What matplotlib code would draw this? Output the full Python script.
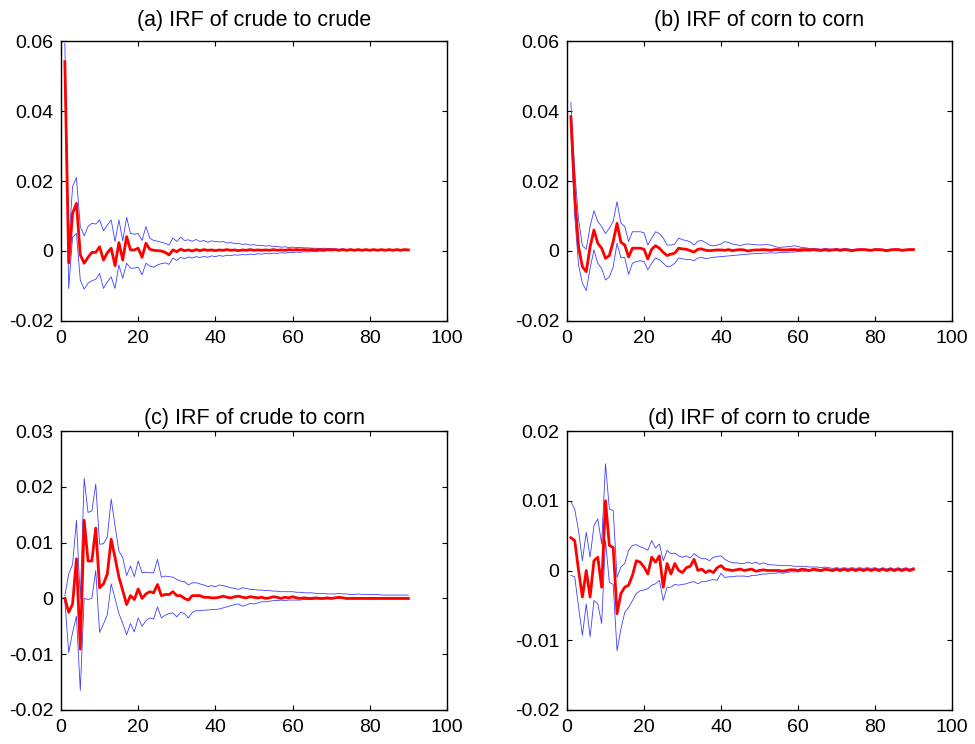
import matplotlib
matplotlib.use("Agg")
import matplotlib.pyplot as plt

plt.rcParams['font.family'] = ['Liberation Sans', 'DejaVu Sans']
plt.rcParams['axes.unicode_minus'] = False

horizon = list(range(1, 91))

titles = ["(a) IRF of crude to crude", "(b) IRF of corn to corn",
          "(c) IRF of crude to corn", "(d) IRF of corn to crude"]

xticks = [0, 20, 40, 60, 80, 100]
xticklabels = ["0", "20", "40", "60", "80", "100"]

yticks_a = [-0.02, 0, 0.02, 0.04, 0.06]
yticklabels_a = ["-0.02", "0", "0.02", "0.04", "0.06"]
yticks_b = [-0.02, 0, 0.02, 0.04, 0.06]
yticklabels_b = ["-0.02", "0", "0.02", "0.04", "0.06"]
yticks_c = [-0.02, -0.01, 0, 0.01, 0.02, 0.03]
yticklabels_c = ["-0.02", "-0.01", "0", "0.01", "0.02", "0.03"]
yticks_d = [-0.02, -0.01, 0, 0.01, 0.02]
yticklabels_d = ["-0.02", "-0.01", "0", "0.01", "0.02"]

# ---------------- (a) crude -> crude
irf_a = [0.0541, -0.0034, 0.0108, 0.0136, -0.0011, -0.0035, -0.0018, -0.0004, -0.0004, 0.0012,
         -0.0026, -0.0005, 0.0008, -0.0042, 0.0024, -0.0026, 0.0041, 0.0003, 0.0003, 0.0008,
         -0.0018, 0.0022, 0.0005, 0.0002, 0.0001, 0.0000, -0.0004, -0.0011, 0.0003, -0.0002,
         0.0005, 0.0001, 0.0003, 0.0000, 0.0004, 0.0001, 0.0004, 0.0002, 0.0003, 0.0001,
         0.0003, 0.0002, 0.0004, 0.0002, 0.0003, 0.0001, 0.0003, 0.0002, 0.0004, 0.0002,
         0.0003, 0.0002, 0.0003, 0.0002, 0.0004, 0.0002, 0.0003, 0.0002, 0.0004, 0.0003,
         0.0004, 0.0003, 0.0004, 0.0003, 0.0004, 0.0003, 0.0004, 0.0003, 0.0004, 0.0003,
         0.0004, 0.0002, 0.0004, 0.0002, 0.0004, 0.0002, 0.0004, 0.0002, 0.0004, 0.0002,
         0.0004, 0.0002, 0.0004, 0.0002, 0.0004, 0.0002, 0.0004, 0.0002, 0.0004, 0.0003]
upper_a = [0.0593, 0.0020, 0.0184, 0.0210, 0.0070, 0.0043, 0.0070, 0.0079, 0.0077, 0.0089,
           0.0058, 0.0074, 0.0089, 0.0027, 0.0089, 0.0029, 0.0096, 0.0050, 0.0048, 0.0050,
           0.0030, 0.0070, 0.0037, 0.0030, 0.0028, 0.0025, 0.0022, 0.0017, 0.0037, 0.0027,
           0.0040, 0.0030, 0.0032, 0.0028, 0.0033, 0.0027, 0.0030, 0.0025, 0.0029, 0.0027,
           0.0026, 0.0027, 0.0023, 0.0024, 0.0021, 0.0022, 0.0019, 0.0020, 0.0017, 0.0018,
           0.0016, 0.0016, 0.0014, 0.0015, 0.0013, 0.0013, 0.0011, 0.0012, 0.0010, 0.0011,
           0.0010, 0.0010, 0.0009, 0.0009, 0.0008, 0.0008, 0.0007, 0.0008, 0.0007, 0.0007,
           0.0006, 0.0005, 0.0006, 0.0004, 0.0005, 0.0004, 0.0005, 0.0004, 0.0005, 0.0004,
           0.0005, 0.0003, 0.0005, 0.0003, 0.0005, 0.0003, 0.0005, 0.0003, 0.0005, 0.0004]
lower_a = [0.0490, -0.0107, 0.0040, 0.0050, -0.0083, -0.0109, -0.0092, -0.0085, -0.0081, -0.0064,
           -0.0107, -0.0088, -0.0074, -0.0107, -0.0040, -0.0078, -0.0035, -0.0049, -0.0049, -0.0046,
           -0.0068, -0.0035, -0.0043, -0.0046, -0.0040, -0.0036, -0.0034, -0.0038, -0.0020, -0.0027,
           -0.0018, -0.0022, -0.0017, -0.0020, -0.0016, -0.0019, -0.0015, -0.0018, -0.0014, -0.0016,
           -0.0013, -0.0015, -0.0012, -0.0013, -0.0011, -0.0012, -0.0010, -0.0011, -0.0009, -0.0010,
           -0.0008, -0.0009, -0.0007, -0.0008, -0.0006, -0.0007, -0.0005, -0.0006, -0.0004, -0.0005,
           -0.0003, -0.0004, -0.0002, -0.0003, -0.0001, -0.0002, 0.0000, -0.0001, 0.0001, 0.0001,
           0.0002, 0.0001, 0.0002, 0.0001, 0.0002, 0.0001, 0.0002, 0.0001, 0.0002, 0.0001,
           0.0002, 0.0001, 0.0002, 0.0001, 0.0002, 0.0001, 0.0002, 0.0001, 0.0002, 0.0002]

# ---------------- (b) corn -> corn
irf_b = [0.0384, 0.0160, 0.0012, -0.0045, -0.0059, 0.0012, 0.0060, 0.0022, 0.0008, -0.0021,
         -0.0013, 0.0027, 0.0079, 0.0025, 0.0017, -0.0017, 0.0008, 0.0008, 0.0008, 0.0005,
         -0.0023, 0.0005, 0.0015, 0.0008, -0.0004, -0.0013, -0.0009, -0.0006, 0.0008, 0.0006,
         0.0005, 0.0001, -0.0003, 0.0005, 0.0006, 0.0002, 0.0001, 0.0002, 0.0003, 0.0003,
         0.0002, 0.0004, 0.0001, 0.0003, 0.0004, 0.0003, 0.0000, 0.0002, 0.0003, 0.0003,
         0.0004, 0.0003, 0.0002, 0.0004, 0.0004, 0.0003, 0.0003, 0.0004, 0.0004, 0.0003,
         0.0004, 0.0004, 0.0003, 0.0004, 0.0003, 0.0002, 0.0004, 0.0002, 0.0003, 0.0004,
         0.0002, 0.0004, 0.0003, 0.0001, 0.0003, 0.0004, 0.0004, 0.0003, 0.0002, 0.0004,
         0.0004, 0.0003, 0.0001, 0.0003, 0.0004, 0.0004, 0.0002, 0.0003, 0.0004, 0.0004]
upper_b = [0.0424, 0.0230, 0.0090, 0.0015, 0.0005, 0.0070, 0.0115, 0.0084, 0.0070, 0.0050,
           0.0065, 0.0085, 0.0141, 0.0080, 0.0070, 0.0027, 0.0055, 0.0055, 0.0055, 0.0052,
           0.0017, 0.0037, 0.0055, 0.0050, 0.0037, 0.0017, 0.0017, 0.0020, 0.0037, 0.0032,
           0.0030, 0.0026, 0.0017, 0.0028, 0.0030, 0.0024, 0.0017, 0.0015, 0.0017, 0.0020,
           0.0027, 0.0024, 0.0020, 0.0018, 0.0015, 0.0019, 0.0020, 0.0019, 0.0018, 0.0017,
           0.0018, 0.0018, 0.0017, 0.0013, 0.0010, 0.0011, 0.0012, 0.0013, 0.0015, 0.0013,
           0.0010, 0.0009, 0.0007, 0.0007, 0.0006, 0.0005, 0.0007, 0.0006, 0.0005, 0.0007,
           0.0005, 0.0007, 0.0006, 0.0004, 0.0005, 0.0006, 0.0006, 0.0005, 0.0004, 0.0006,
           0.0006, 0.0005, 0.0003, 0.0005, 0.0006, 0.0006, 0.0004, 0.0005, 0.0006, 0.0006]
lower_b = [0.0340, 0.0100, -0.0040, -0.0092, -0.0113, -0.0050, 0.0003, -0.0035, -0.0050, -0.0083,
           -0.0074, -0.0045, 0.0022, -0.0019, -0.0019, -0.0067, -0.0035, -0.0030, -0.0028, -0.0030,
           -0.0054, -0.0035, -0.0020, -0.0025, -0.0035, -0.0045, -0.0043, -0.0035, -0.0020, -0.0022,
           -0.0025, -0.0024, -0.0028, -0.0020, -0.0018, -0.0022, -0.0020, -0.0018, -0.0017, -0.0016,
           -0.0015, -0.0014, -0.0013, -0.0012, -0.0011, -0.0010, -0.0009, -0.0008, -0.0007, -0.0007,
           -0.0006, -0.0006, -0.0005, -0.0006, -0.0005, -0.0004, -0.0004, -0.0003, -0.0003, -0.0002,
           -0.0001, 0.0000, 0.0000, 0.0001, 0.0000, 0.0000, 0.0001, 0.0000, 0.0001, 0.0002,
           0.0000, 0.0002, 0.0001, -0.0001, 0.0001, 0.0002, 0.0002, 0.0001, 0.0000, 0.0002,
           0.0002, 0.0001, -0.0001, 0.0001, 0.0002, 0.0002, 0.0000, 0.0001, 0.0002, 0.0002]

# ---------------- (c) crude -> corn
irf_c = [0.0000, -0.0025, -0.0010, 0.0071, -0.0091, 0.0140, 0.0067, 0.0067, 0.0126, 0.0019,
         0.0026, 0.0044, 0.0106, 0.0073, 0.0038, 0.0014, -0.0011, 0.0005, -0.0002, 0.0017,
         0.0000, 0.0008, 0.0012, 0.0010, 0.0025, 0.0005, 0.0007, 0.0007, 0.0012, 0.0005,
         0.0005, 0.0000, -0.0003, 0.0005, 0.0005, 0.0005, 0.0002, 0.0002, 0.0001, 0.0001,
         0.0002, 0.0004, 0.0002, 0.0001, 0.0003, 0.0004, 0.0002, 0.0001, 0.0003, 0.0002,
         0.0001, 0.0002, 0.0000, 0.0001, 0.0003, 0.0002, 0.0000, 0.0002, 0.0001, 0.0003,
         0.0001, 0.0000, 0.0001, 0.0000, 0.0000, 0.0001, 0.0000, 0.0000, 0.0001, 0.0000,
         0.0001, 0.0002, 0.0001, 0.0000, 0.0000, 0.0000, 0.0000, 0.0000, 0.0000, 0.0000,
         0.0000, 0.0000, 0.0000, 0.0000, 0.0000, 0.0000, 0.0000, 0.0000, 0.0000, 0.0000]
upper_c = [0.0005, 0.0044, 0.0061, 0.0140, 0.0000, 0.0215, 0.0154, 0.0157, 0.0205, 0.0097,
           0.0098, 0.0110, 0.0178, 0.0130, 0.0085, 0.0073, 0.0041, 0.0058, 0.0039, 0.0067,
           0.0046, 0.0047, 0.0046, 0.0046, 0.0070, 0.0038, 0.0040, 0.0039, 0.0038, 0.0034,
           0.0031, 0.0030, 0.0024, 0.0028, 0.0028, 0.0026, 0.0024, 0.0021, 0.0023, 0.0021,
           0.0024, 0.0023, 0.0021, 0.0019, 0.0018, 0.0016, 0.0019, 0.0018, 0.0016, 0.0016,
           0.0015, 0.0015, 0.0014, 0.0014, 0.0013, 0.0013, 0.0012, 0.0012, 0.0012, 0.0012,
           0.0011, 0.0011, 0.0010, 0.0010, 0.0010, 0.0009, 0.0009, 0.0009, 0.0008, 0.0008,
           0.0008, 0.0009, 0.0008, 0.0008, 0.0007, 0.0007, 0.0008, 0.0007, 0.0007, 0.0007,
           0.0007, 0.0007, 0.0006, 0.0006, 0.0006, 0.0006, 0.0006, 0.0006, 0.0006, 0.0006]
lower_c = [-0.0005, -0.0097, -0.0061, -0.0032, -0.0165, 0.0000, -0.0002, 0.0000, 0.0050, -0.0061,
           -0.0046, -0.0029, 0.0026, 0.0000, -0.0027, -0.0045, -0.0065, -0.0045, -0.0060, -0.0035,
           -0.0050, -0.0040, -0.0035, -0.0037, -0.0015, -0.0035, -0.0030, -0.0027, -0.0026, -0.0033,
           -0.0025, -0.0027, -0.0035, -0.0025, -0.0022, -0.0022, -0.0021, -0.0021, -0.0020, -0.0020,
           -0.0019, -0.0017, -0.0015, -0.0013, -0.0011, -0.0010, -0.0014, -0.0012, -0.0009, -0.0010,
           -0.0008, -0.0006, -0.0006, -0.0005, -0.0004, -0.0004, -0.0003, -0.0004, -0.0003, -0.0003,
           -0.0003, -0.0003, -0.0002, -0.0002, -0.0002, -0.0001, -0.0001, -0.0001, -0.0001, -0.0001,
           0.0000, 0.0000, 0.0000, -0.0001, -0.0001, -0.0001, -0.0001, -0.0001, -0.0001, -0.0001,
           -0.0001, -0.0001, -0.0001, -0.0001, -0.0001, -0.0001, -0.0001, -0.0001, -0.0001, -0.0001]

# ---------------- (d) corn -> crude
irf_d = [0.0047, 0.0043, 0.0000, -0.0038, 0.0000, -0.0038, 0.0014, 0.0019, -0.0024, 0.0100,
         0.0036, 0.0033, -0.0062, -0.0033, -0.0024, -0.0021, -0.0007, 0.0014, 0.0012, 0.0005,
         -0.0005, 0.0019, 0.0012, 0.0021, -0.0024, 0.0010, -0.0005, 0.0010, 0.0000, -0.0003,
         0.0004, 0.0006, 0.0016, 0.0000, 0.0002, -0.0003, 0.0000, -0.0003, 0.0004, 0.0007,
         0.0002, 0.0001, 0.0000, 0.0001, 0.0002, 0.0000, 0.0001, 0.0002, -0.0001, 0.0000,
         0.0001, 0.0000, 0.0000, 0.0000, 0.0000, -0.0001, 0.0000, 0.0001, 0.0001, 0.0000,
         0.0002, 0.0001, 0.0000, 0.0002, 0.0001, 0.0000, 0.0002, 0.0001, 0.0000, 0.0002,
         0.0000, 0.0002, 0.0000, 0.0002, 0.0000, 0.0002, 0.0000, 0.0002, 0.0000, 0.0002,
         0.0000, 0.0002, 0.0000, 0.0002, 0.0000, 0.0002, 0.0000, 0.0002, 0.0000, 0.0002]
upper_d = [0.0099, 0.0088, 0.0057, 0.0014, 0.0055, 0.0019, 0.0064, 0.0074, 0.0038, 0.0153,
           0.0088, 0.0086, -0.0010, 0.0005, 0.0010, 0.0029, 0.0036, 0.0037, 0.0034, 0.0032,
           0.0029, 0.0043, 0.0032, 0.0038, 0.0014, 0.0029, 0.0024, 0.0025, 0.0021, 0.0019,
           0.0021, 0.0018, 0.0024, 0.0020, 0.0017, 0.0017, 0.0014, 0.0019, 0.0020, 0.0021,
           0.0016, 0.0013, 0.0011, 0.0011, 0.0010, 0.0010, 0.0012, 0.0010, 0.0012, 0.0009,
           0.0011, 0.0009, 0.0008, 0.0008, 0.0007, 0.0007, 0.0007, 0.0007, 0.0006, 0.0006,
           0.0006, 0.0006, 0.0005, 0.0005, 0.0005, 0.0004, 0.0005, 0.0004, 0.0003, 0.0004,
           0.0003, 0.0004, 0.0003, 0.0004, 0.0003, 0.0004, 0.0003, 0.0004, 0.0003, 0.0004,
           0.0002, 0.0004, 0.0002, 0.0004, 0.0002, 0.0004, 0.0002, 0.0004, 0.0002, 0.0004]
lower_d = [-0.0007, -0.0009, -0.0052, -0.0093, -0.0048, -0.0095, -0.0043, -0.0048, -0.0076, 0.0043,
           -0.0017, -0.0020, -0.0115, -0.0084, -0.0060, -0.0053, -0.0043, -0.0033, -0.0029, -0.0028,
           -0.0026, -0.0021, -0.0019, -0.0014, -0.0043, -0.0024, -0.0024, -0.0020, -0.0021, -0.0020,
           -0.0019, -0.0017, -0.0016, -0.0019, -0.0016, -0.0016, -0.0014, -0.0013, -0.0014, -0.0004,
           -0.0010, -0.0009, -0.0009, -0.0008, -0.0008, -0.0008, -0.0009, -0.0007, -0.0007, -0.0006,
           -0.0005, -0.0005, -0.0004, -0.0004, -0.0003, -0.0004, -0.0003, -0.0002, -0.0002, -0.0002,
           -0.0001, -0.0001, -0.0001, 0.0000, -0.0001, -0.0001, 0.0000, 0.0000, -0.0001, 0.0000,
           -0.0001, 0.0001, -0.0001, 0.0001, -0.0001, 0.0001, -0.0001, 0.0001, -0.0001, 0.0001,
           -0.0001, 0.0001, -0.0001, 0.0001, -0.0001, 0.0001, -0.0001, 0.0001, -0.0001, 0.0001]

panels = [
    (irf_a, upper_a, lower_a, yticks_a, yticklabels_a),
    (irf_b, upper_b, lower_b, yticks_b, yticklabels_b),
    (irf_c, upper_c, lower_c, yticks_c, yticklabels_c),
    (irf_d, upper_d, lower_d, yticks_d, yticklabels_d),
]

W, H = 975, 744
fig = plt.figure(figsize=(W / 100, H / 100), dpi=100)
boxes = [
    (61, 41, 447, 321),
    (567, 41, 952, 321),
    (61, 431, 447, 710),
    (567, 431, 952, 710),
]
title_pads = [11, 11, 5, 5]

for (irf, up, lo, yt, ytl), title, (l, t, r, b), tp in zip(panels, titles, boxes, title_pads):
    ax = fig.add_axes([l / W, 1 - b / H, (r - l) / W, (b - t) / H])
    ax.plot(horizon, up, color=(0.25, 0.25, 1.0), lw=0.6)
    ax.plot(horizon, lo, color=(0.25, 0.25, 1.0), lw=0.6)
    ax.plot(horizon, irf, color=(1, 0, 0), lw=2.0)
    ax.set_xlim(0, 100)
    ax.set_ylim(yt[0], yt[-1])
    ax.set_xticks(xticks)
    ax.set_xticklabels(xticklabels)
    ax.set_yticks(yt)
    ax.set_yticklabels(ytl)
    ax.tick_params(direction='in', top=True, right=True, length=3.5, width=0.8,
                   labelsize=14, colors='black')
    ax.tick_params(axis='x', pad=6.5)
    ax.tick_params(axis='y', pad=5.5)
    for s in ax.spines.values():
        s.set_linewidth(1.0)
        s.set_color('black')
    ax.set_title(title, fontsize=15.5, pad=tp)

fig.savefig("out.png", dpi=100)
